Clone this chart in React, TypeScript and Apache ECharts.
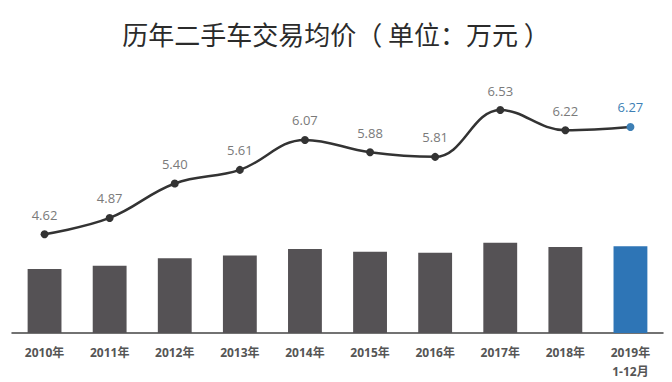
import React, { useEffect, useRef } from "react";
import * as echarts from "echarts";

const categories = ["2010年", "2011年", "2012年", "2013年", "2014年", "2015年", "2016年", "2017年", "2018年", "2019年\n1-12月"];
const prices = [4.62, 4.87, 5.40, 5.61, 6.07, 5.88, 5.81, 6.53, 6.22, 6.27];
const highlightIndex = 9;

const DARK = "#555255";
const BLUE = "#2e75b6";

export default function App() {
  const ref = useRef<HTMLDivElement>(null);
  useEffect(() => {
    if (!ref.current) return;
    const chart = echarts.init(ref.current, undefined, { renderer: "svg" });
    const font = "'Open Sans', 'Noto Sans CJK SC', sans-serif";
    chart.setOption({
      animation: false,
      backgroundColor: "#ffffff",
      title: {
        text: "历年二手车交易均价（ 单位：万元 ）",
        left: "center",
        top: 15,
        textStyle: { fontSize: 26, fontWeight: "normal", color: "#2b2b2b", fontFamily: "'Noto Sans CJK SC', sans-serif" },
      },
      grid: { left: 12, right: 9, top: 73, bottom: 49, outerBoundsMode: "none", containLabel: false },
      xAxis: {
        type: "category",
        data: categories,
        axisLine: { lineStyle: { color: "#444", width: 1.5 } },
        axisTick: { show: false },
        axisLabel: {
          color: "#555",
          fontWeight: "bold",
          fontSize: 12,
          margin: 10,
          lineHeight: 19,
          fontFamily: font,
        },
      },
      yAxis: [
        { type: "value", min: 0, max: 18.8, show: false },
        { type: "value", min: 3.1, max: 7.1, show: false },
      ],
      series: [
        {
          type: "bar",
          yAxisIndex: 0,
          barWidth: "52%",
          data: prices.map((v, i) => ({ value: v, itemStyle: { color: i === highlightIndex ? BLUE : DARK } })),
        },
        {
          type: "line",
          yAxisIndex: 1,
          smooth: 0.4,
          symbol: "circle",
          symbolSize: 8,
          lineStyle: { color: "#333", width: 2.5 },
          itemStyle: { color: "#333" },
          label: {
            show: true,
            position: "top",
            distance: 9,
            color: "#7a7a7a",
            fontSize: 13,
            fontFamily: font,
            formatter: (p: any) => p.value.toFixed(2),
          },
          data: prices.map((v, i) =>
            i === highlightIndex
              ? { value: v, itemStyle: { color: "#3d7fb5" }, label: { color: "#3d7fb5" } }
              : { value: v }
          ),
        },
      ],
    });
    return () => chart.dispose();
  }, []);
  return <div ref={ref} style={{ position: "fixed", left: 0, top: 0, width: 672, height: 382 }} />;
}
